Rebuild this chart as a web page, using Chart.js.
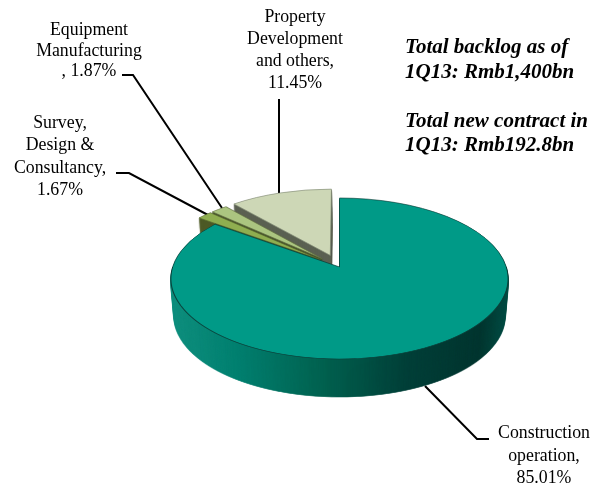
<!DOCTYPE html>
<html>
<head>
<meta charset="utf-8">
<title>Backlog by segment</title>
<script src="https://cdn.jsdelivr.net/npm/chart.js@4"></script>
<style>
  html, body { margin: 0; background: #fff; }
  canvas { display: block; }
</style>
</head>
<body>
<canvas id="chart-backlog" width="597" height="486"></canvas>
<script>
// Shares by segment, clockwise from 12 o'clock
const segments = ['Construction operation', 'Survey, Design & Consultancy', 'Equipment Manufacturing', 'Property Development and others'];
const shares   = [85.01, 1.67, 1.87, 11.45];

const labelConstruction = ['Construction', 'operation,', '85.01%'];
const labelSurvey       = ['Survey,', 'Design &', 'Consultancy,', '1.67%'];
const labelEquipment    = ['Equipment', 'Manufacturing', ', 1.87%'];
const labelProperty     = ['Property', 'Development', 'and others,', '11.45%'];
const noteLines         = ['Total backlog as of', '1Q13: Rmb1,400bn', '', 'Total new contract in', '1Q13: Rmb192.8bn'];

const topColors    = ['#009A87', '#8FAE50', '#ABC580', '#CDD7B6'];
const borderColors = ['#0B3D37', '#55662E', '#5E6B3F', '#7C8570'];
const wallColors   = [null, '#4D5A26', '#46522B', '#5B6152'];
const explodeBy    = [0, 0.15, 0.15, 0.16]; // fraction of the radius

// Flat pie to tilted disc: a 1D perspective, applied row by row
const VIEW = { cx: 339.5, apexY: 267, a: 78.86, b: 166.8, p: -0.1429, firstRow: 180, lastRow: 366 };
const DEPTH = 38;
const RADIUS = 200;

function paintFace(ctx, arc, index) {
  const R = arc.outerRadius;
  const mid = (arc.startAngle + arc.endAngle) / 2;
  const shift = explodeBy[index] * R;
  for (let row = VIEW.firstRow; row < VIEW.lastRow; row++) {
    const yc = row + 0.5;
    const dy = yc - VIEW.apexY;
    const v = dy / (VIEW.a - VIEW.p * dy);
    const w = 1 + VIEW.p * v;
    const sx = VIEW.b / R / w;
    const sy = VIEW.a / R / (w * w);
    ctx.save();
    ctx.beginPath();
    ctx.rect(0, row, ctx.canvas.width, 1);
    ctx.clip();
    ctx.translate(VIEW.cx - arc.x * sx, yc - (arc.y + v * R) * sy);
    ctx.scale(sx, sy);
    ctx.translate(Math.cos(mid) * shift, Math.sin(mid) * shift);
    arc.draw(ctx);
    ctx.restore();
  }
}

function paintWall(ctx, arc, index, W, H) {
  const off = document.createElement('canvas');
  off.width = W;
  off.height = H;
  const octx = off.getContext('2d');
  paintFace(octx, arc, index);
  octx.globalCompositeOperation = 'source-in';
  if (wallColors[index]) {
    octx.fillStyle = wallColors[index];
  } else {
    const grad = octx.createLinearGradient(171, 0, 508, 0);
    grad.addColorStop(0, '#108F7E');
    grad.addColorStop(0.2, '#007F6F');
    grad.addColorStop(0.45, '#00614F');
    grad.addColorStop(0.7, '#003F38');
    grad.addColorStop(0.92, '#00352F');
    grad.addColorStop(1, '#004D44');
    octx.fillStyle = grad;
  }
  octx.fillRect(0, 0, W, H);
  for (let d = DEPTH; d > 0; d--) {
    const k = 1 - 0.02 * d / DEPTH;
    ctx.drawImage(off, VIEW.cx * (1 - k), d, W * k, H);
  }
}

function drawLeaders(ctx) {
  const paths = [
    [[122, 75], [133, 75], [222, 208]],
    [[116, 173], [129, 173], [208, 215]],
    [[279, 99], [279, 193]],
    [[425, 386], [477, 439], [489, 439]]
  ];
  ctx.save();
  ctx.strokeStyle = '#000';
  ctx.lineWidth = 2;
  paths.forEach(p => {
    ctx.beginPath();
    p.forEach(([x, y], i) => (i ? ctx.lineTo(x, y) : ctx.moveTo(x, y)));
    ctx.stroke();
  });
  ctx.restore();
}

function drawTexts(ctx) {
  const block = (lines, x, y0, step) => lines.forEach((t, i) => ctx.fillText(t, x, y0 + i * step));
  ctx.save();
  ctx.fillStyle = '#000';
  ctx.font = '17.8px "Liberation Serif"';
  ctx.textAlign = 'center';
  block(labelEquipment, 89, 35, 20.5);
  block(labelProperty, 295, 22, 22);
  block(labelSurvey, 60, 128, 22.3);
  block(labelConstruction, 544, 438, 22.5);
  ctx.textAlign = 'left';
  ctx.font = 'italic bold 21px "Liberation Serif"';
  block(noteLines, 405, 53, 24.5);
  ctx.restore();
}

const tiltedPie = {
  id: 'tiltedPie',
  beforeDatasetsDraw(chart) {
    const ctx = chart.ctx;
    const arcs = chart.getDatasetMeta(0).data;
    drawLeaders(ctx);
    // back to front, the large slice covers the foot of the small ones
    for (let i = arcs.length - 1; i >= 0; i--) {
      paintWall(ctx, arcs[i], i, chart.width, chart.height);
      paintFace(ctx, arcs[i], i);
    }
    drawTexts(ctx);
    return false;
  }
};

new Chart(document.getElementById('chart-backlog'), {
  type: 'pie',
  data: {
    labels: segments,
    datasets: [{
      data: shares,
      radius: RADIUS,
      backgroundColor: topColors,
      borderColor: borderColors,
      borderWidth: 1.2
    }]
  },
  options: {
    responsive: false,
    animation: false,
    layout: { padding: 0 },
    plugins: { legend: { display: false }, tooltip: { enabled: false } }
  },
  plugins: [tiltedPie]
});
</script>
</body>
</html>
